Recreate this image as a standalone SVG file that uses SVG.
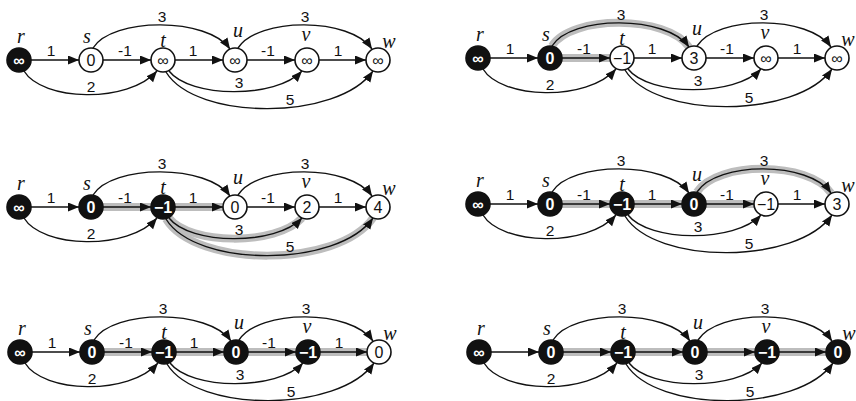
<svg xmlns="http://www.w3.org/2000/svg" xmlns:xlink="http://www.w3.org/1999/xlink" width="856" height="401" viewBox="0 0 856 401">
  <style>
    .edge{fill:none;stroke:#111;stroke-width:1.4;marker-end:url(#ah)}
    .hl{fill:none;stroke:#bdbdbd;stroke-width:8}
    .lbl{font-family:"Liberation Sans",Arial,sans-serif;font-size:15.5px;text-anchor:middle;fill:#111}
    .nm{font-family:"Liberation Serif","Times New Roman",serif;font-style:italic;font-size:20px;text-anchor:middle;fill:#111}
    .wn circle{fill:#fff;stroke:#111;stroke-width:1.6}
    .bn circle{fill:#111;stroke:#111;stroke-width:1.6}
    .val{font-family:"Liberation Sans",Arial,sans-serif;font-size:16px;text-anchor:middle}
    .wn .val{fill:#111}
    .bn .val{fill:#fff;font-weight:bold}
  </style>
  <defs>
    <marker id="ah" markerUnits="userSpaceOnUse" markerWidth="12" markerHeight="10" refX="11" refY="4.5" orient="auto">
      <path d="M0,0 L11,4.5 L0,9 z" fill="#111"/>
    </marker>
    <!-- edge geometry shared by all six graphs -->
    <path id="e-rs" d="M31,60 H79"/>
    <path id="e-st" d="M103,60 H151"/>
    <path id="e-tu" d="M175,60 H223"/>
    <path id="e-uv" d="M247,60 H295"/>
    <path id="e-vw" d="M319,60 H366"/>
    <path id="e-su" d="M93,48 C112,17 208,17 230,49"/>
    <path id="e-uw" d="M238,48 C258,17 350,17 372,49"/>
    <path id="e-rt" d="M24,71 C42,101 128,104 157,71"/>
    <path id="e-tv" d="M169,71 C190,98 276,99 302,71"/>
    <path id="e-tw" d="M166,72 C196,121 338,121 373,71"/>
    <g id="all-edges" class="edge">
      <use xlink:href="#e-rs"/><use xlink:href="#e-st"/><use xlink:href="#e-tu"/>
      <use xlink:href="#e-uv"/><use xlink:href="#e-vw"/><use xlink:href="#e-su"/>
      <use xlink:href="#e-uw"/><use xlink:href="#e-rt"/><use xlink:href="#e-tv"/>
      <use xlink:href="#e-tw"/>
    </g>
    <g id="arc-weights" class="lbl">
      <text x="162" y="22">3</text>
      <text x="305" y="22">3</text>
      <text x="91" y="92">2</text>
      <text x="239" y="88">3</text>
      <text x="290" y="105">5</text>
    </g>
    <g id="line-weights" class="lbl">
      <text x="51" y="56">1</text>
      <text x="125" y="56">-1</text>
      <text x="193" y="56">1</text>
      <text x="268" y="56">-1</text>
      <text x="338" y="56">1</text>
    </g>
  </defs>

  <!-- graph 1 -->
  <g id="graph1" transform="translate(0,0)">
    <g id="g1-connectors">
      <use xlink:href="#all-edges"/><use xlink:href="#arc-weights"/><use xlink:href="#line-weights"/>
    </g>
    <g id="g1-r" class="bn"><text class="nm" x="21" y="43">r</text><circle cx="19" cy="60" r="12"/><text class="val" x="19" y="66">∞</text></g>
    <g id="g1-s" class="wn"><text class="nm" x="87" y="43">s</text><circle cx="91" cy="60" r="12"/><text class="val" x="91" y="66">0</text></g>
    <g id="g1-t" class="wn"><text class="nm" x="163" y="47">t</text><circle cx="163" cy="60" r="12"/><text class="val" x="163" y="66">∞</text></g>
    <g id="g1-u" class="wn"><text class="nm" x="238" y="37">u</text><circle cx="235" cy="60" r="12"/><text class="val" x="235" y="66">∞</text></g>
    <g id="g1-v" class="wn"><text class="nm" x="306" y="41">v</text><circle cx="307" cy="60" r="12"/><text class="val" x="307" y="66">∞</text></g>
    <g id="g1-w" class="wn"><text class="nm" x="389" y="48">w</text><circle cx="378" cy="60" r="12"/><text class="val" x="378" y="66">∞</text></g>
  </g>

  <!-- graph 2 -->
  <g id="graph2" transform="translate(459,-2)">
    <g id="g2-connectors">
      <use class="hl" xlink:href="#e-su"/><use class="hl" xlink:href="#e-st"/>
      <use xlink:href="#all-edges"/><use xlink:href="#arc-weights"/><use xlink:href="#line-weights"/>
    </g>
    <g id="g2-r" class="bn"><text class="nm" x="21" y="43">r</text><circle cx="19" cy="60" r="12"/><text class="val" x="19" y="66">∞</text></g>
    <g id="g2-s" class="bn"><text class="nm" x="87" y="43">s</text><circle cx="91" cy="60" r="12"/><text class="val" x="91" y="66">0</text></g>
    <g id="g2-t" class="wn"><text class="nm" x="163" y="47">t</text><circle cx="163" cy="60" r="12"/><text class="val" x="163" y="66">−1</text></g>
    <g id="g2-u" class="wn"><text class="nm" x="238" y="37">u</text><circle cx="235" cy="60" r="12"/><text class="val" x="235" y="66">3</text></g>
    <g id="g2-v" class="wn"><text class="nm" x="306" y="41">v</text><circle cx="307" cy="60" r="12"/><text class="val" x="307" y="66">∞</text></g>
    <g id="g2-w" class="wn"><text class="nm" x="389" y="48">w</text><circle cx="378" cy="60" r="12"/><text class="val" x="378" y="66">∞</text></g>
  </g>

  <!-- graph 3 -->
  <g id="graph3" transform="translate(0,147)">
    <g id="g3-connectors">
      <use class="hl" xlink:href="#e-st"/><use class="hl" xlink:href="#e-tu"/>
      <use class="hl" xlink:href="#e-tv"/><use class="hl" xlink:href="#e-tw"/>
      <use xlink:href="#all-edges"/><use xlink:href="#arc-weights"/><use xlink:href="#line-weights"/>
    </g>
    <g id="g3-r" class="bn"><text class="nm" x="21" y="43">r</text><circle cx="19" cy="60" r="12"/><text class="val" x="19" y="66">∞</text></g>
    <g id="g3-s" class="bn"><text class="nm" x="87" y="43">s</text><circle cx="91" cy="60" r="12"/><text class="val" x="91" y="66">0</text></g>
    <g id="g3-t" class="bn"><text class="nm" x="163" y="47">t</text><circle cx="163" cy="60" r="12"/><text class="val" x="163" y="66">−1</text></g>
    <g id="g3-u" class="wn"><text class="nm" x="238" y="37">u</text><circle cx="235" cy="60" r="12"/><text class="val" x="235" y="66">0</text></g>
    <g id="g3-v" class="wn"><text class="nm" x="306" y="41">v</text><circle cx="307" cy="60" r="12"/><text class="val" x="307" y="66">2</text></g>
    <g id="g3-w" class="wn"><text class="nm" x="389" y="48">w</text><circle cx="378" cy="60" r="12"/><text class="val" x="378" y="66">4</text></g>
  </g>

  <!-- graph 4 -->
  <g id="graph4" transform="translate(459,144)">
    <g id="g4-connectors">
      <use class="hl" xlink:href="#e-st"/><use class="hl" xlink:href="#e-tu"/>
      <use class="hl" xlink:href="#e-uv"/><use class="hl" xlink:href="#e-uw"/>
      <use xlink:href="#all-edges"/><use xlink:href="#arc-weights"/><use xlink:href="#line-weights"/>
    </g>
    <g id="g4-r" class="bn"><text class="nm" x="21" y="43">r</text><circle cx="19" cy="60" r="12"/><text class="val" x="19" y="66">∞</text></g>
    <g id="g4-s" class="bn"><text class="nm" x="87" y="43">s</text><circle cx="91" cy="60" r="12"/><text class="val" x="91" y="66">0</text></g>
    <g id="g4-t" class="bn"><text class="nm" x="163" y="47">t</text><circle cx="163" cy="60" r="12"/><text class="val" x="163" y="66">−1</text></g>
    <g id="g4-u" class="bn"><text class="nm" x="238" y="37">u</text><circle cx="235" cy="60" r="12"/><text class="val" x="235" y="66">0</text></g>
    <g id="g4-v" class="wn"><text class="nm" x="306" y="41">v</text><circle cx="307" cy="60" r="12"/><text class="val" x="307" y="66">−1</text></g>
    <g id="g4-w" class="wn"><text class="nm" x="389" y="48">w</text><circle cx="378" cy="60" r="12"/><text class="val" x="378" y="66">3</text></g>
  </g>

  <!-- graph 5 -->
  <g id="graph5" transform="translate(1,292)">
    <g id="g5-connectors">
      <use class="hl" xlink:href="#e-st"/><use class="hl" xlink:href="#e-tu"/>
      <use class="hl" xlink:href="#e-uv"/><use class="hl" xlink:href="#e-vw"/>
      <use xlink:href="#all-edges"/><use xlink:href="#arc-weights"/><use xlink:href="#line-weights"/>
    </g>
    <g id="g5-r" class="bn"><text class="nm" x="21" y="43">r</text><circle cx="19" cy="60" r="12"/><text class="val" x="19" y="66">∞</text></g>
    <g id="g5-s" class="bn"><text class="nm" x="87" y="43">s</text><circle cx="91" cy="60" r="12"/><text class="val" x="91" y="66">0</text></g>
    <g id="g5-t" class="bn"><text class="nm" x="163" y="47">t</text><circle cx="163" cy="60" r="12"/><text class="val" x="163" y="66">−1</text></g>
    <g id="g5-u" class="bn"><text class="nm" x="238" y="37">u</text><circle cx="235" cy="60" r="12"/><text class="val" x="235" y="66">0</text></g>
    <g id="g5-v" class="bn"><text class="nm" x="306" y="41">v</text><circle cx="307" cy="60" r="12"/><text class="val" x="307" y="66">−1</text></g>
    <g id="g5-w" class="wn"><text class="nm" x="389" y="48">w</text><circle cx="378" cy="60" r="12"/><text class="val" x="378" y="66">0</text></g>
  </g>

  <!-- graph 6: straight edges carry no weights here -->
  <g id="graph6" transform="translate(460,292)">
    <g id="g6-connectors">
      <use class="hl" xlink:href="#e-st"/><use class="hl" xlink:href="#e-tu"/>
      <use class="hl" xlink:href="#e-uv"/><use class="hl" xlink:href="#e-vw"/>
      <use xlink:href="#all-edges"/><use xlink:href="#arc-weights"/>
    </g>
    <g id="g6-r" class="bn"><text class="nm" x="21" y="43">r</text><circle cx="19" cy="60" r="12"/><text class="val" x="19" y="66">∞</text></g>
    <g id="g6-s" class="bn"><text class="nm" x="87" y="43">s</text><circle cx="91" cy="60" r="12"/><text class="val" x="91" y="66">0</text></g>
    <g id="g6-t" class="bn"><text class="nm" x="163" y="47">t</text><circle cx="163" cy="60" r="12"/><text class="val" x="163" y="66">−1</text></g>
    <g id="g6-u" class="bn"><text class="nm" x="238" y="37">u</text><circle cx="235" cy="60" r="12"/><text class="val" x="235" y="66">0</text></g>
    <g id="g6-v" class="bn"><text class="nm" x="306" y="41">v</text><circle cx="307" cy="60" r="12"/><text class="val" x="307" y="66">−1</text></g>
    <g id="g6-w" class="bn"><text class="nm" x="389" y="48">w</text><circle cx="378" cy="60" r="12"/><text class="val" x="378" y="66">0</text></g>
  </g>
</svg>
